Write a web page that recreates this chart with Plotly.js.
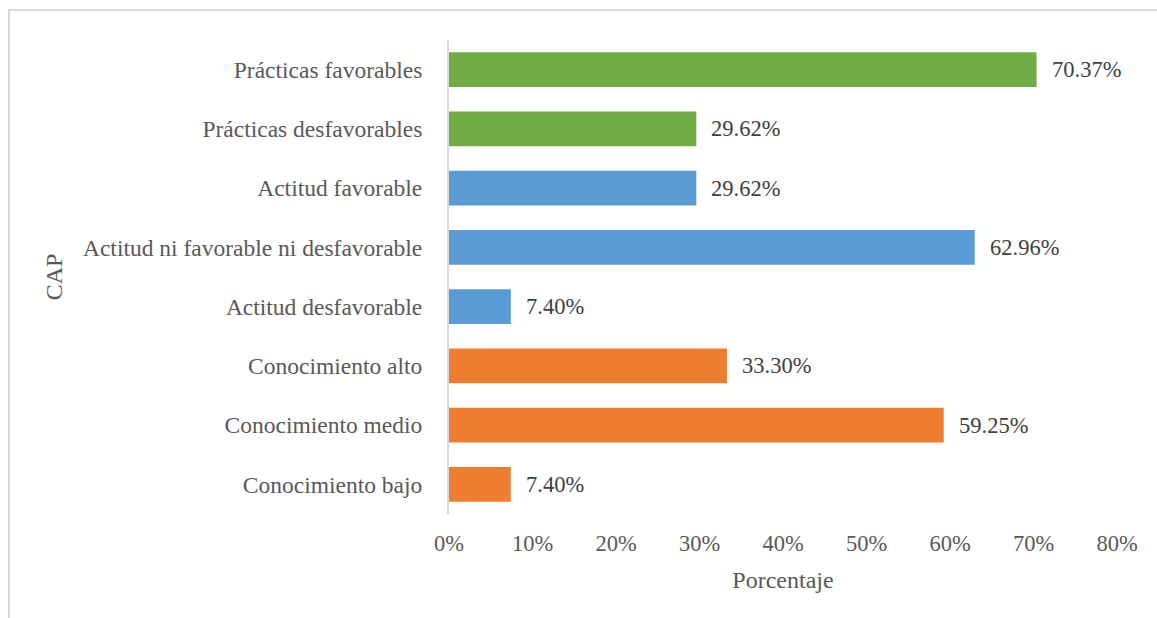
<!DOCTYPE html>
<html>
<head>
<meta charset="utf-8">
<script src="https://cdn.plot.ly/plotly-3.0.1.min.js"></script>
<style>
html,body{margin:0;padding:0;background:#fff;}
#chart{width:1157px;height:618px;position:relative;}
#frame{position:absolute;left:8px;top:9px;width:1149px;height:609px;border-left:2px solid #d9d9d9;border-top:2px solid #d9d9d9;pointer-events:none;}
</style>
</head>
<body>
<div id="chart"></div>
<div id="frame"></div>
<script>
const categories = [
  "Prácticas favorables",
  "Prácticas desfavorables",
  "Actitud favorable",
  "Actitud ni favorable ni desfavorable",
  "Actitud desfavorable",
  "Conocimiento alto",
  "Conocimiento medio",
  "Conocimiento bajo"
];
const values = [70.37, 29.62, 29.62, 62.96, 7.40, 33.30, 59.25, 7.40];
const barColors = ["#70AD47","#70AD47","#5B9BD5","#5B9BD5","#5B9BD5","#ED7D31","#ED7D31","#ED7D31"];
const tickVals = [0,10,20,30,40,50,60,70,80];
const tickText = ["0%","10%","20%","30%","40%","50%","60%","70%","80%"];

const font = "'Liberation Serif', 'Times New Roman', serif";
const txtColor = "#404040";

const trace = {
  type: "bar",
  orientation: "h",
  x: values,
  y: categories,
  marker: {color: barColors},
  hoverinfo: "none"
};

const annotations = values.map((v,i)=>({
  x: v, y: categories[i], xref: "x", yref: "y",
  text: v.toFixed(2) + "%",
  showarrow: false, xanchor: "left", xshift: 13,
  font: {family: font, size: 22.5, color: txtColor}
}));

const layout = {
  width: 1157, height: 618,
  margin: {l: 449, r: 40, t: 40, b: 104, pad: 0},
  paper_bgcolor: "rgba(0,0,0,0)",
  plot_bgcolor: "#fff",
  bargap: 0.41,
  showlegend: false,
  font: {family: font, size: 22, color: txtColor},
  xaxis: {
    range: [0, 80],
    tickvals: tickVals, ticktext: tickText,
    showgrid: false, zeroline: false, showline: false,
    ticks: "", ticklabelstandoff: 13,
    tickfont: {family: font, size: 22.5, color: "#595959"},
    title: {text: "Porcentaje", font: {family: font, size: 24, color: "#595959"}, standoff: 16},
    fixedrange: true
  },
  yaxis: {
    autorange: "reversed",
    showgrid: false, zeroline: false,
    showline: true, linecolor: "#d9d9d9", linewidth: 2,
    ticks: "", ticklabelstandoff: 20,
    tickfont: {family: font, size: 23.5, color: "#595959"},
    title: {text: "CAP", font: {family: font, size: 24, color: "#595959"}, standoff: 14},
    fixedrange: true
  },
  annotations: annotations
};

Plotly.newPlot("chart", [trace], layout, {staticPlot: true, displayModeBar: false});
</script>
</body>
</html>
